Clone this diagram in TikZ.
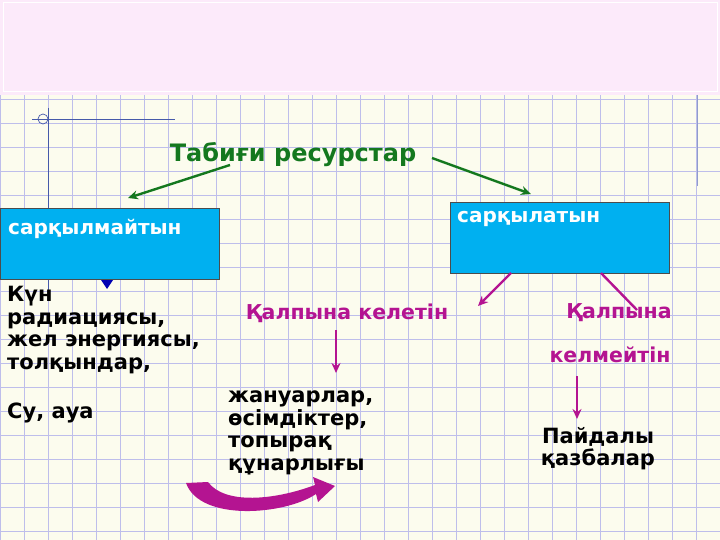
\documentclass[tikz,border=0pt]{standalone}
\usepackage{fontspec}
\setmainfont{DejaVu Sans}
\usetikzlibrary{arrows.meta}
\definecolor{bg}{RGB}{252,252,238}
\definecolor{grid}{RGB}{190,190,235}
\definecolor{pinkband}{RGB}{252,234,250}
\definecolor{gr}{RGB}{20,120,30}
\definecolor{mag}{RGB}{180,20,145}
\definecolor{boxblue}{RGB}{0,176,240}
\definecolor{ln}{RGB}{70,90,170}
\tikzset{
  box/.style={draw=black!70,fill=boxblue,minimum width=219pt,minimum height=71pt,inner sep=0},
  boxtxt/.style={text=white,font=\bfseries\fontsize{20}{22}\selectfont,anchor=north west,inner sep=0},
  ttl/.style={text=gr,font=\bfseries\fontsize{24}{26}\selectfont,inner sep=1pt},
  mtxt/.style={text=mag,font=\bfseries\fontsize{20.5}{22}\selectfont,inner sep=1pt},
  btxt/.style={text=black,font=\bfseries\fontsize{21}{22.5}\selectfont,align=left,inner sep=0,anchor=north west},
  garr/.style={draw=gr,line width=2.4pt,-{Stealth[length=10pt,width=9pt]}},
  marr/.style={draw=mag,line width=2.4pt,-{Stealth[length=10pt,width=9pt]}},
}
\begin{document}
\begin{tikzpicture}[x=1pt,y=-1pt]
\useasboundingbox (0,0) rectangle (720,540);
\fill[bg] (0,0) rectangle (720,540);
\foreach \x in {0,24,...,720} \draw[grid,line width=0.6pt] (\x,95) -- (\x,540);
\foreach \y in {99,123,...,540} \draw[grid,line width=0.6pt] (0,\y) -- (720,\y);
\fill[pinkband] (0,0) rectangle (720,95);
\draw[white,line width=1pt] (3,3) rectangle (717,92);
% decorative lines
\draw[ln,line width=0.7pt] (32,119) -- (175,119);
\draw[ln,line width=0.7pt] (48,108) -- (48,290);
\draw[ln,line width=0.7pt] (43,119) circle (5);
\draw[ln!60,line width=1pt] (697,95) -- (697,186);
% title
\node[ttl] (t) at (293,155) {Табиғи ресурстар};
% boxes
\node[box,anchor=north west] (L) at (0,208) {};
\node[boxtxt] (Lt) at (8,219) {сарқылмайтын};
\node[box,anchor=north west] (R) at (450,202) {};
\node[boxtxt] (Rt) at (457,211) {сарқылатын};
\coordinate (tri) at (107,284);
\fill[blue!70!black] (101,280) -- (113,280) -- (107,289) -- cycle;
% green arrows
\coordinate (g1s) at (230,165); \coordinate (g1e) at (128,198);
\coordinate (g2s) at (432,158); \coordinate (g2e) at (531,194);
\draw[garr] (g1s) -- (g1e);
\draw[garr] (g2s) -- (g2e);
% magenta labels
\node[mtxt] (k1) at (347,313) {Қалпына келетін};
\node[mtxt] (k2) at (619,313) {Қалпына};
\node[mtxt] (k3) at (610,355) {келмейтін};
% magenta arrows
\coordinate (m1s) at (511,273); \coordinate (m1e) at (478,306);
\draw[marr] (m1s) -- (m1e);
\coordinate (m2s) at (601,273); \coordinate (m2e) at (637,310);
\draw[mag,line width=2.4pt] (m2s) -- (m2e);
\coordinate (d1s) at (336,330); \coordinate (d1e) at (336,373);
\draw[marr] (d1s) -- (d1e);
\coordinate (d2s) at (577,376); \coordinate (d2e) at (577,419);
\draw[marr] (d2s) -- (d2e);
% curved arrow
\fill[mag] (186,483) .. controls (200,522) and (285,515) .. (316,494)
  -- (318,502) -- (335,486) -- (313,477) -- (315,485)
  .. controls (275,500) and (225,505) .. (208,482) -- cycle;
% black texts
\node[btxt] (a) at (7,286) {Күн\\радиациясы,\\жел энергиясы,\\толқындар,};
\node[btxt] (b) at (7,403) {Су, ауа};
\node[btxt] (c) at (228,391) {жануарлар,\\өсімдіктер,\\топырақ\\құнарлығы};
\node[btxt,align=center,anchor=north] (p) at (598,427) {Пайдалы\\қазбалар};
\end{tikzpicture}
\end{document}
